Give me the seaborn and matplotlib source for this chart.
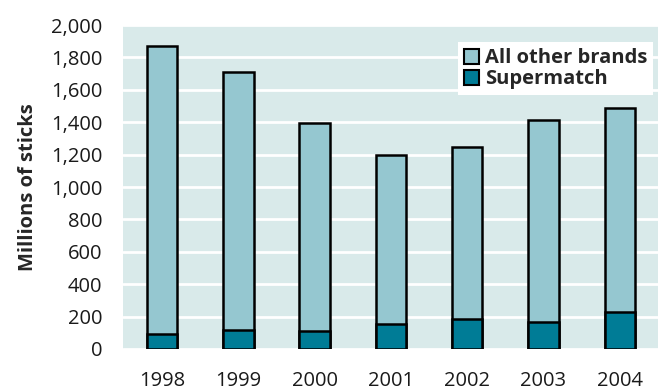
import matplotlib
matplotlib.use('Agg')
import matplotlib.pyplot as plt
import seaborn as sns
import pandas as pd
from matplotlib.patches import Patch
from matplotlib.ticker import FuncFormatter

years = ['1998', '1999', '2000', '2001', '2002', '2003', '2004']
total_sticks = [1870, 1712, 1393, 1198, 1245, 1415, 1490]
supermatch = [90, 117, 110, 155, 185, 165, 228]

df = pd.DataFrame({'year': years, 'total': total_sticks, 'supermatch': supermatch})

sns.set_theme(style='white')
plt.rcParams['font.family'] = ['Open Sans', 'DejaVu Sans']

other_color = '#95c7d0'
super_color = '#007c96'
bg_color = '#d9eaea'

fig, ax = plt.subplots(figsize=(6.6, 3.92), dpi=100)
fig.subplots_adjust(left=123/660, right=658/660, top=1-25/392, bottom=1-349/392)
ax.set_facecolor(bg_color)

# total height drawn first, supermatch overlaid from zero
sns.barplot(data=df, x='year', y='total', color=other_color, width=0.4,
            edgecolor='black', linewidth=1.8, saturation=1, ax=ax, zorder=3)
sns.barplot(data=df, x='year', y='supermatch', color=super_color, width=0.4,
            edgecolor='black', linewidth=1.8, saturation=1, ax=ax, zorder=4)

ax.set_ylim(0, 2000)
ax.set_xlim(-0.51, 6.5)
ax.set_yticks(range(0, 2001, 200))
ax.yaxis.set_major_formatter(FuncFormatter(lambda v, p: f'{int(v):,}'))
ax.grid(axis='y', color='white', linewidth=2)
ax.set_axisbelow(True)
for s in ax.spines.values():
    s.set_visible(False)

ax.tick_params(axis='y', length=0, pad=15, labelsize=14.5, labelcolor='#1a1a1a')
ax.tick_params(axis='x', length=0, pad=16, labelsize=14.5, labelcolor='#1a1a1a')
ax.set_xlabel('')
ax.set_ylabel('Millions of sticks', fontsize=14.5, fontweight='bold', labelpad=9)

handles = [Patch(facecolor=other_color, edgecolor='black', linewidth=1.5, label='All other brands'),
           Patch(facecolor=super_color, edgecolor='black', linewidth=1.5, label='Supermatch')]
leg = ax.legend(handles=handles, loc='upper right', bbox_to_anchor=(1.01, 0.978),
                frameon=True, fancybox=False, framealpha=1, edgecolor='white',
                prop={'weight': 'bold', 'size': 14.5}, handlelength=0.75, handleheight=0.75,
                handletextpad=0.3, labelspacing=0.05, borderpad=0.3)
leg.get_frame().set_linewidth(0)

fig.savefig('out.png', dpi=100, facecolor='white')
